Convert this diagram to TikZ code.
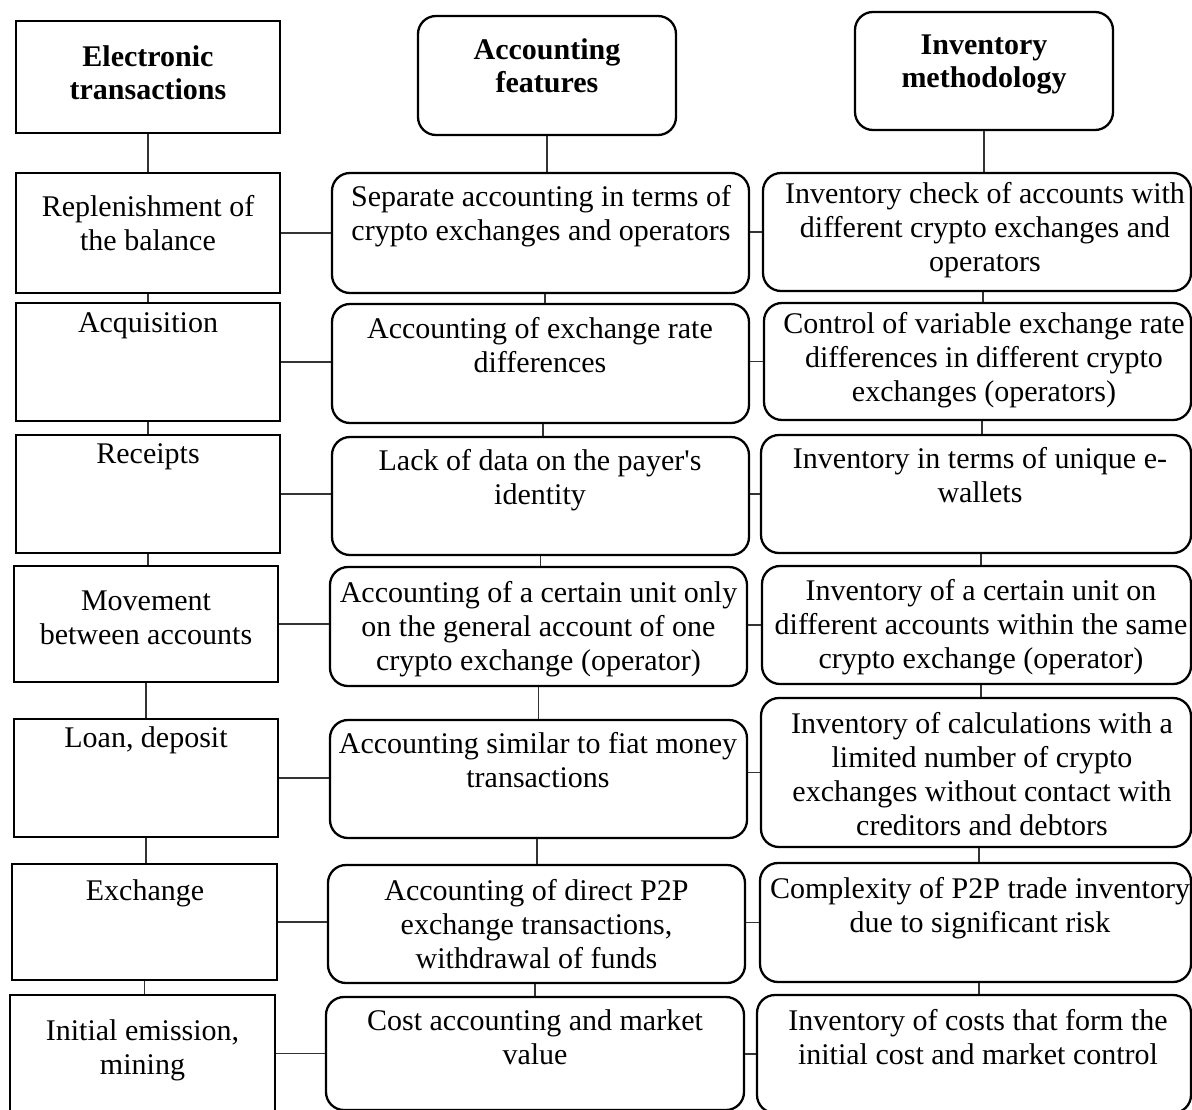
\documentclass[tikz,border=0pt]{standalone}
\usepackage{fontspec}
\setmainfont{Liberation Serif}[Ligatures=TeXOff]
\usetikzlibrary{fit}
\tikzset{
  lbox/.style={draw=black, line width=2pt, inner sep=0pt, rectangle},
  rbox/.style={draw=black, line width=2.3pt, inner sep=0pt, rectangle, rounded corners=18pt},
  txt/.style={inner sep=0pt, anchor=north, align=center, font=\fontsize{30}{34}\selectfont},
  htxt/.style={txt, font=\fontsize{30}{33}\selectfont\bfseries},
  conn/.style={draw=black!80, line width=1.3pt}
}
\begin{document}
\begin{tikzpicture}[x=1pt,y=-1pt]
\path[use as bounding box] (0,0) rectangle (1192,1109);
\clip (0,0) rectangle (1192,1109);
% left column
\node[lbox, fit={(16,21)(280,133)}] (L0) {};
\node[lbox, fit={(16,173)(280,293)}] (L1) {};
\node[lbox, fit={(16,303)(280,421)}] (L2) {};
\node[lbox, fit={(16,435)(280,553)}] (L3) {};
\node[lbox, fit={(14,566)(278,682)}] (L4) {};
\node[lbox, fit={(14,719)(278,837)}] (L5) {};
\node[lbox, fit={(12,864)(277,980)}] (L6) {};
\node[lbox, fit={(10,995)(275,1112)}] (L7) {};
% middle column
\node[rbox, fit={(418,16)(676,135)}] (M0) {};
\node[rbox, fit={(332,173)(749,293)}] (M1) {};
\node[rbox, fit={(332,304)(749,423)}] (M2) {};
\node[rbox, fit={(332,437)(749,555)}] (M3) {};
\node[rbox, fit={(330,567)(747,686)}] (M4) {};
\node[rbox, fit={(330,720)(747,838)}] (M5) {};
\node[rbox, fit={(328,865)(745,983)}] (M6) {};
\node[rbox, fit={(326,997)(744,1110)}] (M7) {};
% right column
\node[rbox, fit={(855,12)(1113,130)}] (R0) {};
\node[rbox, fit={(763,173)(1191,291)}] (R1) {};
\node[rbox, fit={(764,303)(1191,420)}] (R2) {};
\node[rbox, fit={(761,435)(1191,553)}] (R3) {};
\node[rbox, fit={(762,566)(1191,684)}] (R4) {};
\node[rbox, fit={(761,698)(1191,847)}] (R5) {};
\node[rbox, fit={(760,863)(1191,982)}] (R6) {};
\node[rbox, fit={(757,995)(1191,1113)}] (R7) {};
% texts
\node[htxt] (L0t) at (148,43) {\strut Electronic\\transactions};
\node[txt] (L1t) at (148,192) {\strut Replenishment of\\the balance};
\node[txt] (L2t) at (148,308) {\strut Acquisition};
\node[txt] (L3t) at (148,439) {\strut Receipts};
\node[txt] (L4t) at (146,586) {\strut Movement\\between accounts};
\node[txt] (L5t) at (146,723) {\strut Loan, deposit};
\node[txt] (L6t) at (145,876) {\strut Exchange};
\node[txt] (L7t) at (142.5,1016) {\strut Initial emission,\\mining};
\node[htxt] (M0t) at (547,36) {\strut Accounting\\features};
\node[txt] (M1t) at (541,182) {\strut Separate accounting in terms of\\crypto exchanges and operators};
\node[txt] (M2t) at (540,314) {\strut Accounting of exchange rate\\differences};
\node[txt] (M3t) at (540,446) {\strut Lack of data on the payer's\\identity};
\node[txt] (M4t) at (538.5,578) {\strut Accounting of a certain unit only\\on the general account of one\\crypto exchange (operator)};
\node[txt] (M5t) at (538,729) {\strut Accounting similar to fiat money\\transactions};
\node[txt] (M6t) at (536.5,876) {\strut Accounting of direct P2P\\exchange transactions,\\withdrawal of funds};
\node[txt] (M7t) at (535,1006) {\strut Cost accounting and market\\value};
\node[htxt] (R0t) at (984,31) {\strut Inventory\\methodology};
\node[txt] (R1t) at (985,179) {\strut Inventory check of accounts with\\different crypto exchanges and\\operators};
\node[txt] (R2t) at (984,309) {\strut Control of variable exchange rate\\differences in different crypto\\exchanges (operators)};
\node[txt] (R3t) at (980,444) {\strut Inventory in terms of unique e-\\wallets};
\node[txt] (R4t) at (981,576) {\strut Inventory of a certain unit on\\different accounts within the same\\crypto exchange (operator)};
\node[txt] (R5t) at (982,709) {\strut Inventory of calculations with a\\limited number of crypto\\exchanges without contact with\\creditors and debtors};
\node[txt] (R6t) at (980,874) {\strut Complexity of P2P trade inventory\\due to significant risk};
\node[txt] (R7t) at (978,1006) {\strut Inventory of costs that form the\\initial cost and market control};
% vertical connectors, left
\foreach \a/\b in {L0/L1,L1/L2,L2/L3,L3/L4,L4/L5,L5/L6,L6/L7}
  \draw[conn] (\a.south) -- (\a.south |- \b.north);
% vertical connectors, middle
\foreach \a/\b/\s in {M0/M1/0,M1/M2/4.5,M2/M3/2.5,M3/M4/0,M4/M5/0,M5/M6/-1.5,M6/M7/-1.5}
  \draw[conn] ([xshift=\s pt]\a.south) -- ([xshift=\s pt]\a.south |- \b.north);
% vertical connectors, right
\foreach \a/\b/\s in {R0/R1/0,R1/R2/6,R2/R3/4.5,R3/R4/5,R4/R5/4.5,R5/R6/3,R6/R7/3.5}
  \draw[conn] ([xshift=\s pt]\a.south) -- ([xshift=\s pt]\a.south |- \b.north);
% horizontal connectors
\foreach \a/\b in {L1/M1,L2/M2,L3/M3,L4/M4,L5/M5,L6/M6,L7/M7}
  \draw[conn] (\a.east) -- (\a.east -| \b.west);
\foreach \a/\b in {M1/R1,M2/R2,M3/R3,M4/R4,M5/R5,M6/R6,M7/R7}
  \draw[conn] (\b.west -| \a.east) -- (\b.west);
\end{tikzpicture}
\end{document}
